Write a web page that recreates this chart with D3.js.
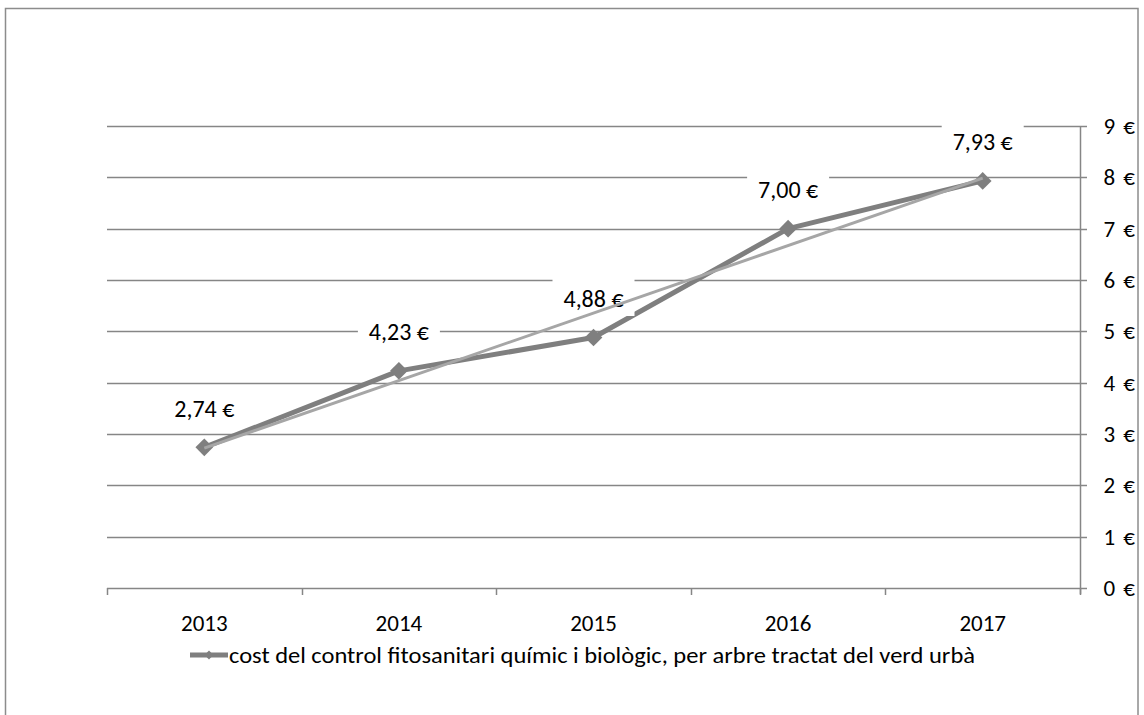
<!DOCTYPE html>
<html><head><meta charset="utf-8">
<script src="https://cdn.jsdelivr.net/npm/d3@7"></script>
<style>body{margin:0;background:#fff}svg{display:block}text{font-family:Carlito,Calibri,"Liberation Sans Narrow","Open Sans",sans-serif;fill:#000}</style>
</head><body><svg id="c" width="1144" height="715"></svg>
<script>
const years = ["2013","2014","2015","2016","2017"];
const values = [2.74, 4.23, 4.88, 7.00, 7.93];
const valueLabels = ["2,74 €","4,23 €","4,88 €","7,00 €","7,93 €"];
const yTicks = [0,1,2,3,4,5,6,7,8,9];
const yTickLabels = ["0 €","1 €","2 €","3 €","4 €","5 €","6 €","7 €","8 €","9 €"];
const legendLabel = "cost del control fitosanitari químic i biològic, per arbre tractat del verd urbà";

const svg = d3.select("#c");
const L = 107, R = 1080, T = 126, B = 588;
const x = d3.scaleBand().domain(years).range([L, R]);
const y = d3.scaleLinear().domain([0, 9]).range([B, T]);
const cx = d => x(d) + x.bandwidth()/2;
const grid = "#868686", dark = "#7f7f7f", light = "#a6a6a6";

// outer frame
svg.append("rect").attr("x",5.5).attr("y",8.5).attr("width",1132.5).attr("height",720)
  .attr("fill","none").attr("stroke","#8c8c8c").attr("stroke-width",1.5);

// gridlines
svg.append("g").selectAll("line").data(yTicks).join("line")
  .attr("x1",L).attr("x2",R+7).attr("y1",d=>Math.round(y(d))+0.5).attr("y2",d=>Math.round(y(d))+0.5)
  .attr("stroke",grid).attr("stroke-width",1.5);
// right axis
svg.append("line").attr("x1",R+0.5).attr("x2",R+0.5).attr("y1",T).attr("y2",B+6).attr("stroke",grid).attr("stroke-width",1.5);
// bottom ticks
const bounds = years.map(d=>x(d)).concat([R]);
svg.append("g").selectAll("line").data(bounds).join("line")
  .attr("x1",d=>Math.round(d)+0.5).attr("x2",d=>Math.round(d)+0.5).attr("y1",B).attr("y2",B+7)
  .attr("stroke",grid).attr("stroke-width",1.5);
// y labels
svg.append("g").selectAll("text").data(yTicks).join("text")
  .attr("x",1135).attr("y",d=>y(d)).attr("dy","0.35em").attr("text-anchor","end")
  .attr("font-size",23).attr("word-spacing",3).text((d,i)=>yTickLabels[i]);
// x labels
svg.append("g").selectAll("text").data(years).join("text")
  .attr("x",d=>cx(d)).attr("y",623).attr("dy","0.35em").attr("text-anchor","middle").attr("font-size",23).text(d=>d);

// series
const pts = years.map((d,i)=>[cx(d), y(values[i])]);
svg.append("path").attr("d", d3.line()(pts)).attr("fill","none").attr("stroke",dark).attr("stroke-width",5).attr("stroke-linejoin","round");
const diamond = d3.symbol().type(d3.symbolDiamond2).size(200);
svg.append("g").selectAll("path").data(pts).join("path")
  .attr("transform",d=>`translate(${d[0]},${d[1]})`).attr("d",diamond).attr("fill",dark);

// label boxes
const lbl = svg.append("g").selectAll("g").data(pts).join("g")
  .attr("transform",d=>`translate(${d[0]},${d[1]-39})`);
lbl.append("rect").attr("x",-41).attr("y",-19.5).attr("width",82).attr("height",37).attr("fill","#fff");

// linear trendline (least squares on the series)
const xs = years.map((d,i)=>i+1);
const mx = d3.mean(xs), my = d3.mean(values);
const slope = d3.sum(xs.map((v,i)=>(v-mx)*(values[i]-my))) / d3.sum(xs.map(v=>(v-mx)**2));
const ic = my - slope*mx;
svg.append("path").attr("d", d3.line()([[cx(years[0]), y(ic+slope*1)],[cx(years[4]), y(ic+slope*5)]]))
  .attr("fill","none").attr("stroke",light).attr("stroke-width",3);

lbl.append("text").attr("text-anchor","middle").attr("dy","0.35em").attr("font-size",24).text((d,i)=>valueLabels[i]);

// legend
svg.append("line").attr("x1",190).attr("x2",228).attr("y1",655).attr("y2",655).attr("stroke",dark).attr("stroke-width",5);
svg.append("path").attr("transform","translate(209,655)").attr("d",d3.symbol().type(d3.symbolDiamond2).size(50)).attr("fill",dark);
svg.append("text").attr("x",229).attr("y",655).attr("dy","0.35em").attr("font-size",22)
  .attr("textLength",746).attr("lengthAdjust","spacingAndGlyphs").text(legendLabel);
</script></body></html>
